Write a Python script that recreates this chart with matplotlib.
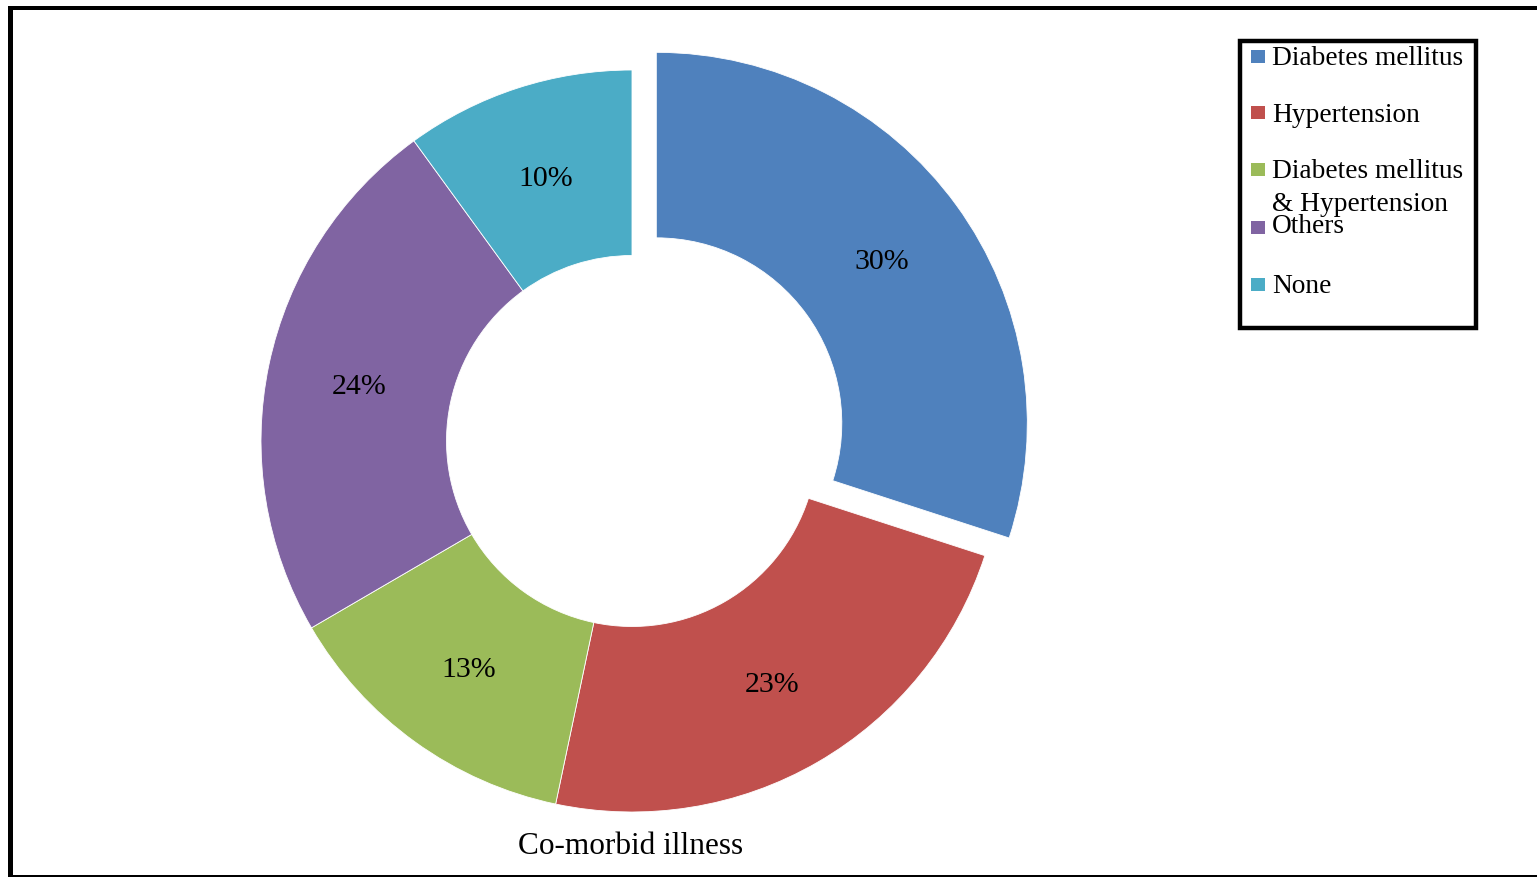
import matplotlib
matplotlib.use("Agg")
import matplotlib.pyplot as plt
from matplotlib.lines import Line2D
from matplotlib.patches import Rectangle

plt.rcParams['font.family'] = ['Liberation Serif', 'DejaVu Serif']

labels = ["Diabetes mellitus", "Hypertension", "Diabetes mellitus\n& Hypertension", "Others", "None"]
values = [30, 23.3, 13.3, 23.4, 10]
pct_labels = ["30%", "23%", "13%", "24%", "10%"]
colors = ["#4F81BD", "#C0504D", "#9BBB59", "#8064A2", "#4BACC6"]
explode = [0.081, 0, 0, 0, 0]

W, H = 1537, 877
fig = plt.figure(figsize=(W / 100, H / 100), dpi=100)
ax = fig.add_axes([0, 0, 1, 1])

# donut centre at pixel (632, 441), outer radius 371 px
cx, cy, R = 632, H - 441, 371

wedges, texts = ax.pie(values, colors=colors, explode=explode, startangle=90,
                       counterclock=False, radius=1, labels=pct_labels,
                       labeldistance=0.752,
                       wedgeprops=dict(width=0.5, edgecolor='white', linewidth=0.6),
                       textprops=dict(fontsize=21.5))
for t in texts:
    t.set_ha('center')
    t.set_va('center_baseline')
ax.set_xlim(-cx / R, (W - cx) / R)
ax.set_ylim(-cy / R, (H - cy) / R)
ax.set_aspect('auto')
ax.axis('off')

fig.text(631 / W, 1 - 847 / H, "Co-morbid illness", fontsize=22.5,
         ha='center', va='center')

# legend drawn by hand to mimic the spacing of the source
fig.patches.append(Rectangle((1240 / W, 1 - 328 / H), 236 / W, 287 / H,
                             transform=fig.transFigure, fill=False,
                             edgecolor='black', linewidth=3.2))
sq_y = [56, 112, 169, 227, 284]
base_y = [65, 122, 178, 233, 293]
for lab, col, ys, yb in zip(labels, colors, sq_y, base_y):
    fig.patches.append(Rectangle((1251 / W, 1 - (ys + 6.5) / H), 14 / W, 13 / H,
                                 transform=fig.transFigure, facecolor=col,
                                 edgecolor='none'))
    first, *rest = lab.split("\n")
    fig.text(1272 / W, 1 - yb / H, first, fontsize=19.7, ha='left', va='baseline')
    for k, line in enumerate(rest, 1):
        fig.text(1272 / W, 1 - (yb + 33.4 * k) / H, line, fontsize=19.7,
                 ha='left', va='baseline')

# outer frame
lw = 3.6
fig.add_artist(Line2D([9.5 / W, 9.5 / W], [1 - 8 / H, 0], transform=fig.transFigure,
                      color='black', linewidth=lw, solid_capstyle='projecting'))
fig.add_artist(Line2D([9.5 / W, 1], [1 - 8 / H, 1 - 8 / H], transform=fig.transFigure,
                      color='black', linewidth=lw * 0.8))
fig.add_artist(Line2D([9.5 / W, 1], [1 - 876 / H, 1 - 876 / H], transform=fig.transFigure,
                      color='black', linewidth=lw * 0.6))

fig.savefig("out.png", dpi=100, facecolor='white')
